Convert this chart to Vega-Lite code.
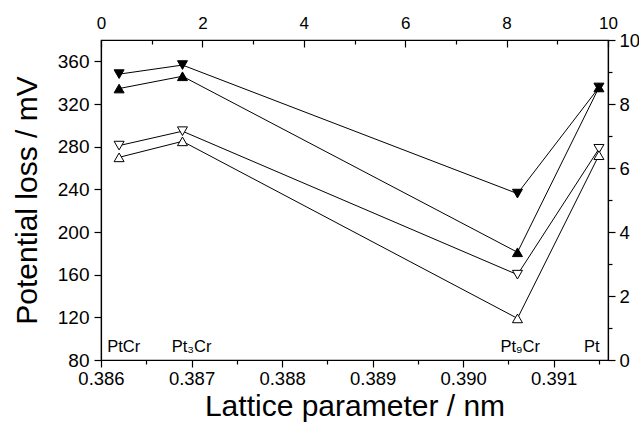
{
  "$schema": "https://vega.github.io/schema/vega-lite/v6.json",
  "width": 507,
  "height": 320,
  "autosize": "none",
  "padding": {"left": 101, "top": 40, "right": 31, "bottom": 68},
  "config": {
    "view": {"stroke": "black", "strokeWidth": 1.2},
    "font": "Liberation Sans",
    "axis": {"grid": false, "domainColor": "black", "domainWidth": 1.2, "tickColor": "black", "tickWidth": 1.2, "labelColor": "black", "titleColor": "black", "titleFontWeight": "normal", "labelFont": "Liberation Sans", "titleFont": "Liberation Sans"}
  },
  "datasets": {
    "series": [
      {"lattice": 0.3862, "loss": 348, "series": "A"},
      {"lattice": 0.3869, "loss": 356.5, "series": "A"},
      {"lattice": 0.3906, "loss": 236, "series": "A"},
      {"lattice": 0.3915, "loss": 335.5, "series": "A"},
      {"lattice": 0.3862, "loss": 334.5, "series": "B"},
      {"lattice": 0.3869, "loss": 346, "series": "B"},
      {"lattice": 0.3906, "loss": 181, "series": "B"},
      {"lattice": 0.3915, "loss": 335.5, "series": "B"},
      {"lattice": 0.3862, "loss": 281, "series": "C"},
      {"lattice": 0.3869, "loss": 294.5, "series": "C"},
      {"lattice": 0.3906, "loss": 160, "series": "C"},
      {"lattice": 0.3915, "loss": 278, "series": "C"},
      {"lattice": 0.3862, "loss": 270, "series": "D"},
      {"lattice": 0.3869, "loss": 285, "series": "D"},
      {"lattice": 0.3906, "loss": 119, "series": "D"},
      {"lattice": 0.3915, "loss": 272, "series": "D"}
    ],
    "labels": [
      {"lattice": 0.38625, "loss": 92, "name": "PtCr"},
      {"lattice": 0.387, "loss": 92, "name": "Pt₃Cr"},
      {"lattice": 0.39063, "loss": 92, "name": "Pt₉Cr"},
      {"lattice": 0.39142, "loss": 92, "name": "Pt"}
    ]
  },
  "data": {"name": "series"},
  "layer": [
    {
      "layer": [
        {
          "mark": {"type": "line", "color": "black", "strokeWidth": 1},
          "encoding": {
            "x": {"field": "lattice", "type": "quantitative",
              "scale": {"domain": [0.386, 0.3916], "nice": false, "zero": false},
              "axis": {
                "orient": "bottom",
                "values": [0.386, 0.3865, 0.387, 0.3875, 0.388, 0.3885, 0.389, 0.3895, 0.39, 0.3905, 0.391, 0.3915],
                "labelExpr": "abs(datum.value*1000 - round(datum.value*1000)) < 0.01 ? format(datum.value, '.3f') : ''",
                "tickSize": {"condition": {"test": "abs(datum.value*1000 - round(datum.value*1000)) < 0.01", "value": 7}, "value": 4},
                "labelFontSize": 18.5, "labelPadding": 2, "labelFlush": false,
                "title": "Lattice parameter / nm", "titleFontSize": 30, "titlePadding": 4
              }},
            "y": {"field": "loss", "type": "quantitative",
              "scale": {"domain": [80, 380], "nice": false, "zero": false},
              "axis": {
                "orient": "left",
                "values": [80, 100, 120, 140, 160, 180, 200, 220, 240, 260, 280, 300, 320, 340, 360],
                "labelExpr": "datum.value % 40 === 0 ? datum.label : ''",
                "tickSize": {"condition": {"test": "datum.value % 40 === 0", "value": 7}, "value": 4},
                "labelFontSize": 19, "labelPadding": 5, "labelFlush": false,
                "title": "Potential loss / mV", "titleFontSize": 30, "titlePadding": 15
              }},
            "detail": {"field": "series"}
          }
        },
        {
          "mark": {"type": "point", "filled": false, "stroke": "black", "strokeWidth": 1, "opacity": 1, "size": 100},
          "encoding": {
            "x": {"field": "lattice", "type": "quantitative"},
            "y": {"field": "loss", "type": "quantitative"},
            "shape": {"field": "series", "type": "nominal", "scale": {"domain": ["A", "B", "C", "D"], "range": ["triangle-down", "triangle-up", "triangle-down", "triangle-up"]}, "legend": null},
            "fill": {"field": "series", "type": "nominal", "scale": {"domain": ["A", "B", "C", "D"], "range": ["black", "black", "white", "white"]}, "legend": null}
          }
        },
        {
          "data": {"name": "labels"},
          "mark": {"type": "text", "fontSize": 16.5, "font": "Liberation Sans", "color": "black", "baseline": "middle", "align": "center"},
          "encoding": {
            "x": {"field": "lattice", "type": "quantitative"},
            "y": {"field": "loss", "type": "quantitative"},
            "text": {"field": "name"}
          }
        }
      ]
    },
    {
      "mark": {"type": "point", "opacity": 0},
      "encoding": {
        "x": {"datum": 0, "type": "quantitative",
          "scale": {"domain": [0, 10], "nice": false, "zero": false},
          "axis": {
            "orient": "top",
            "values": [0, 1, 2, 3, 4, 5, 6, 7, 8, 9, 10],
            "labelExpr": "datum.value % 2 === 0 ? datum.label : ''",
            "tickSize": {"condition": {"test": "datum.value % 2 === 0", "value": -7}, "value": -4},
            "labelFontSize": 17, "labelPadding": 15, "labelFlush": false,
            "title": null
          }},
        "y": {"datum": 0, "type": "quantitative",
          "scale": {"domain": [0, 10], "nice": false, "zero": false},
          "axis": {
            "orient": "right",
            "values": [0, 1, 2, 3, 4, 5, 6, 7, 8, 9, 10],
            "labelExpr": "datum.value % 2 === 0 ? datum.label : ''",
            "tickSize": {"condition": {"test": "datum.value % 2 === 0", "value": 7}, "value": 4},
            "labelFontSize": 18.5, "labelPadding": 4, "labelFlush": false,
            "title": null
          }}
      }
    }
  ],
  "resolve": {"scale": {"x": "independent", "y": "independent"}, "axis": {"x": "independent", "y": "independent"}}
}
